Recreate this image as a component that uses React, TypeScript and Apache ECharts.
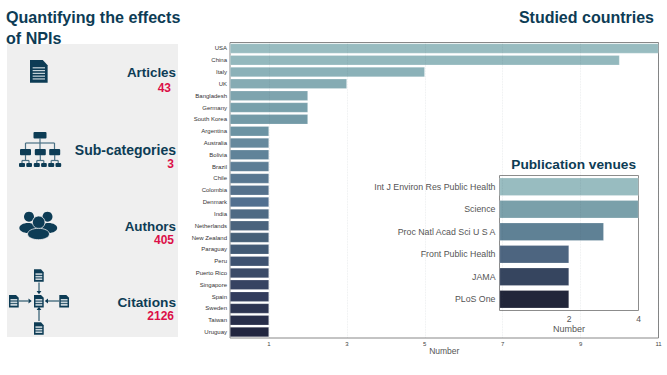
import React, { useEffect, useRef } from "react";
import * as echarts from "echarts";

const countries = ["USA","China","Italy","UK","Bangladesh","Germany","South Korea","Argentina","Australia","Bolivia","Brazil","Chile","Colombia","Denmark","India","Netherlands","New Zealand","Paraguay","Peru","Puerto Rico","Singapore","Spain","Sweden","Taiwan","Uruguay"];
const countryValues = [11,10,5,3,2,2,2,1,1,1,1,1,1,1,1,1,1,1,1,1,1,1,1,1,1];
const countryColors = ["#98bcc0","#93b8bd","#8bb1b8","#85abb3","#7ea4ae","#78a0ab","#739aa7","#6c93a3","#66899d","#608399","#5c7d95","#587791","#55718c","#527090","#4e6a84","#4a637d","#466078","#425a75","#3e5270","#3b4b68","#364362","#323c5c","#2d3552","#282e4a","#222640"];
const countryTicks = [1,3,5,7,9,11];
const venues = ["Int J Environ Res Public Health","Science","Proc Natl Acad Sci U S A","Front Public Health","JAMA","PLoS One"];
const venueValues = [4,4,3,2,2,2];
const venueColors = ["#98bcc0","#7aa0aa","#5f8195","#4d6580","#36455f","#22263a"];
const venueTicks = [2,4];
const stats = [
  { label: "Articles", value: "43", labelY: 72, valueY: 88, valueRight: 171, size: 13.4 },
  { label: "Sub-categories", value: "3", labelY: 149.5, valueY: 164, valueRight: 174, size: 14 },
  { label: "Authors", value: "405", labelY: 226, valueY: 240, valueRight: 174, size: 13.4 },
  { label: "Citations", value: "2126", labelY: 302.5, valueY: 316, valueRight: 174, size: 13.7 },
];

const NAVY = "#0d3c55";
const RED = "#dc0f48";
const FONT = "'Liberation Sans', Arial, sans-serif";

const docD = "M0 0H13L18 5V22H0Z";
echarts.graphic.registerShape("docIcon", echarts.graphic.extendPath(docD as any, {}) as any);

function doc(x: number, y: number, sx: number, sy: number, lines: number[], lh: number) {
  const kids: any[] = [{ type: "docIcon", x, y, scaleX: sx, scaleY: sy, style: { fill: NAVY } }];
  lines.forEach((ly) => kids.push({ type: "rect", shape: { x: x + 2.7 * sx, y: y + ly * sy, width: 12.6 * sx, height: lh }, style: { fill: "#c9d5db" } }));
  return kids;
}
function arrow(x1: number, y1: number, x2: number, y2: number) {
  const dx = Math.sign(x2 - x1), dy = Math.sign(y2 - y1);
  return [
    { type: "line", shape: { x1, y1, x2, y2 }, style: { stroke: "#3c6578", lineWidth: 1.3 } },
    { type: "polygon", shape: { points: [[x2 + dx * 3.2, y2 + dy * 3.2], [x2 + dy * 2.4, y2 + dx * 2.4], [x2 - dy * 2.4, y2 - dx * 2.4]] }, style: { fill: NAVY } },
  ];
}
function icons(): any[] {
  const out: any[] = [];
  // article document
  out.push(...doc(30, 60, 0.98, 1.03, [7, 9.7, 12.4, 15.1, 17.8], 1.2));
  // hierarchy
  const b = (x: number, y: number, w: number, h: number) => out.push({ type: "rect", shape: { x, y, width: w, height: h, r: 1 }, style: { fill: NAVY } });
  const l = (x1: number, y1: number, x2: number, y2: number) => out.push({ type: "line", shape: { x1, y1, x2, y2 }, style: { stroke: "#4a7084", lineWidth: 1.2 } });
  b(33.5, 132, 13, 6.5);
  l(40, 138, 40, 149); l(25.5, 143, 54.5, 143); l(25.5, 143, 25.5, 149); l(54.5, 143, 54.5, 149);
  [25.5, 40.3, 54.7].forEach((cx) => {
    b(cx - 5.5, 149, 11, 6.2);
    l(cx, 155, cx, 160.5); l(cx - 3.5, 160.5, cx + 3.5, 160.5); l(cx - 3.5, 160.5, cx - 3.5, 163); l(cx + 3.5, 160.5, cx + 3.5, 163);
    b(cx - 6.5, 163, 6, 4); b(cx + 0.8, 163, 5.7, 4);
  });
  // people
  const circ = (cx: number, cy: number, r: number) => out.push({ type: "circle", shape: { cx, cy, r }, style: { fill: NAVY } });
  const body = (cx: number, cy: number, rx: number, ry: number) => out.push({ type: "ellipse", shape: { cx, cy, rx, ry }, style: { fill: NAVY } });
  circ(29, 216.7, 5); circ(47.5, 216.7, 5);
  body(28, 228, 8.7, 5); body(48.5, 228, 8.7, 5);
  out.push({ type: "circle", shape: { cx: 38.7, cy: 222.3, r: 6.3 }, style: { fill: NAVY, stroke: "#efefef", lineWidth: 0.8 } });
  out.push({ type: "ellipse", shape: { cx: 38.5, cy: 234, rx: 11, ry: 5.7 }, style: { fill: NAVY, stroke: "#efefef", lineWidth: 0.8 } });
  // citations
  const cl = [7, 11.5, 16];
  out.push(...doc(34, 269.3, 0.54, 0.57, cl, 1.6));
  out.push(...doc(9, 295, 0.54, 0.57, cl, 1.6));
  out.push(...doc(34, 295, 0.54, 0.57, cl, 1.6));
  out.push(...doc(59.3, 295, 0.54, 0.57, cl, 1.6));
  out.push(...doc(34, 322.3, 0.54, 0.57, cl, 1.6));
  out.push(...arrow(39, 282.5, 39, 291));
  out.push(...arrow(39, 321, 39, 310));
  out.push(...arrow(19, 301, 28.5, 301));
  out.push(...arrow(59, 301, 48, 301));
  return out;
}

function statTexts(): any[] {
  const out: any[] = [];
  stats.forEach((s) => {
    out.push({ type: "text", x: 176, y: s.labelY, style: { text: s.label, fill: NAVY, font: `bold ${s.size}px ${FONT}`, textAlign: "right", textVerticalAlign: "middle" } });
    out.push({ type: "text", x: s.valueRight, y: s.valueY, style: { text: s.value, fill: RED, font: `bold 12px ${FONT}`, textAlign: "right", textVerticalAlign: "middle" } });
  });
  return out;
}

const App: React.FC = () => {
  const ref = useRef<HTMLDivElement>(null);
  useEffect(() => {
    const chart = echarts.init(ref.current!, undefined, { renderer: "svg" });
    chart.setOption({
      animation: false,
      backgroundColor: "#ffffff",
      textStyle: { fontFamily: FONT },
      grid: [
        { left: 230, top: 42.5, width: 428.5, height: 295.5, show: true, borderColor: "#888888", borderWidth: 1, backgroundColor: "transparent" },
        { left: 499.5, top: 175.5, width: 139, height: 135, show: true, borderColor: "#8c8c8c", borderWidth: 1, backgroundColor: "transparent" },
      ],
      xAxis: [
        {
          type: "value", gridIndex: 0, min: 0, max: 11, z: 4, name: "Number", nameLocation: "middle", nameGap: 13, nameMoveOverlap: false,
          nameTextStyle: { fontSize: 8.5, color: "#555555", fontFamily: FONT, verticalAlign: "middle" },
          axisLine: { show: false }, axisTick: { show: false, customValues: countryTicks },
          axisLabel: { customValues: countryTicks, fontSize: 6, color: "#444444", margin: 3, fontFamily: FONT, showMinLabel: true, showMaxLabel: true },
          splitLine: { show: true, lineStyle: { color: "rgba(70,90,100,0.13)", width: 0.8, type: "dotted" } },
        },
        {
          type: "value", gridIndex: 1, min: 0, max: 4, name: "Number", nameLocation: "middle", nameGap: 18, nameMoveOverlap: false,
          nameTextStyle: { fontSize: 9, color: "#555555", fontFamily: FONT, verticalAlign: "middle" },
          axisLine: { show: false }, axisTick: { show: false, customValues: venueTicks },
          axisLabel: { customValues: venueTicks, fontSize: 8.5, color: "#555555", margin: 4, fontFamily: FONT, showMaxLabel: true },
          splitLine: { show: false },
        },
      ],
      yAxis: [
        {
          type: "category", gridIndex: 0, data: countries, inverse: true,
          axisLine: { show: false }, axisTick: { show: false },
          axisLabel: { interval: 0, fontSize: 6, color: "#333333", margin: 3, fontFamily: FONT },
        },
        {
          type: "category", gridIndex: 1, data: venues, inverse: true,
          axisLine: { show: false }, axisTick: { show: false },
          axisLabel: { interval: 0, fontSize: 8.8, color: "#555555", margin: 4, fontFamily: FONT },
        },
      ],
      series: [
        {
          type: "bar", xAxisIndex: 0, yAxisIndex: 0, barWidth: 10, silent: true,
          data: countryValues.map((v, i) => ({ value: v, itemStyle: { color: countryColors[i] } })),
          itemStyle: { borderColor: "rgba(255,255,255,0.4)", borderWidth: 0.5 },
        },
        {
          type: "bar", xAxisIndex: 1, yAxisIndex: 1, barWidth: 18, silent: true,
          data: venueValues.map((v, i) => ({ value: v, itemStyle: { color: venueColors[i] } })),
          itemStyle: { borderColor: "rgba(255,255,255,0.4)", borderWidth: 0.5 },
        },
      ],
      graphic: [
        { type: "rect", z: -10, shape: { x: 7, y: 44, width: 171, height: 293 }, style: { fill: "#efefef" } },
        { type: "text", x: 6, y: 17, style: { text: "Quantifying the effects", fill: NAVY, font: `bold 16.1px ${FONT}`, textVerticalAlign: "middle" } },
        { type: "text", x: 6, y: 37.5, style: { text: "of NPIs", fill: NAVY, font: `bold 16.1px ${FONT}`, textVerticalAlign: "middle" } },
        { type: "text", x: 654, y: 17, style: { text: "Studied countries", fill: NAVY, font: `bold 16px ${FONT}`, textAlign: "right", textVerticalAlign: "middle" } },
        { type: "text", x: 636, y: 164, style: { text: "Publication venues", fill: NAVY, font: `bold 13.7px ${FONT}`, textAlign: "right", textVerticalAlign: "middle" } },
        ...statTexts(),
        ...icons(),
      ],
    });
    return () => chart.dispose();
  }, []);
  return <div ref={ref} style={{ width: 667, height: 375, position: "absolute", left: 0, top: 0 }} />;
};

export default App;
